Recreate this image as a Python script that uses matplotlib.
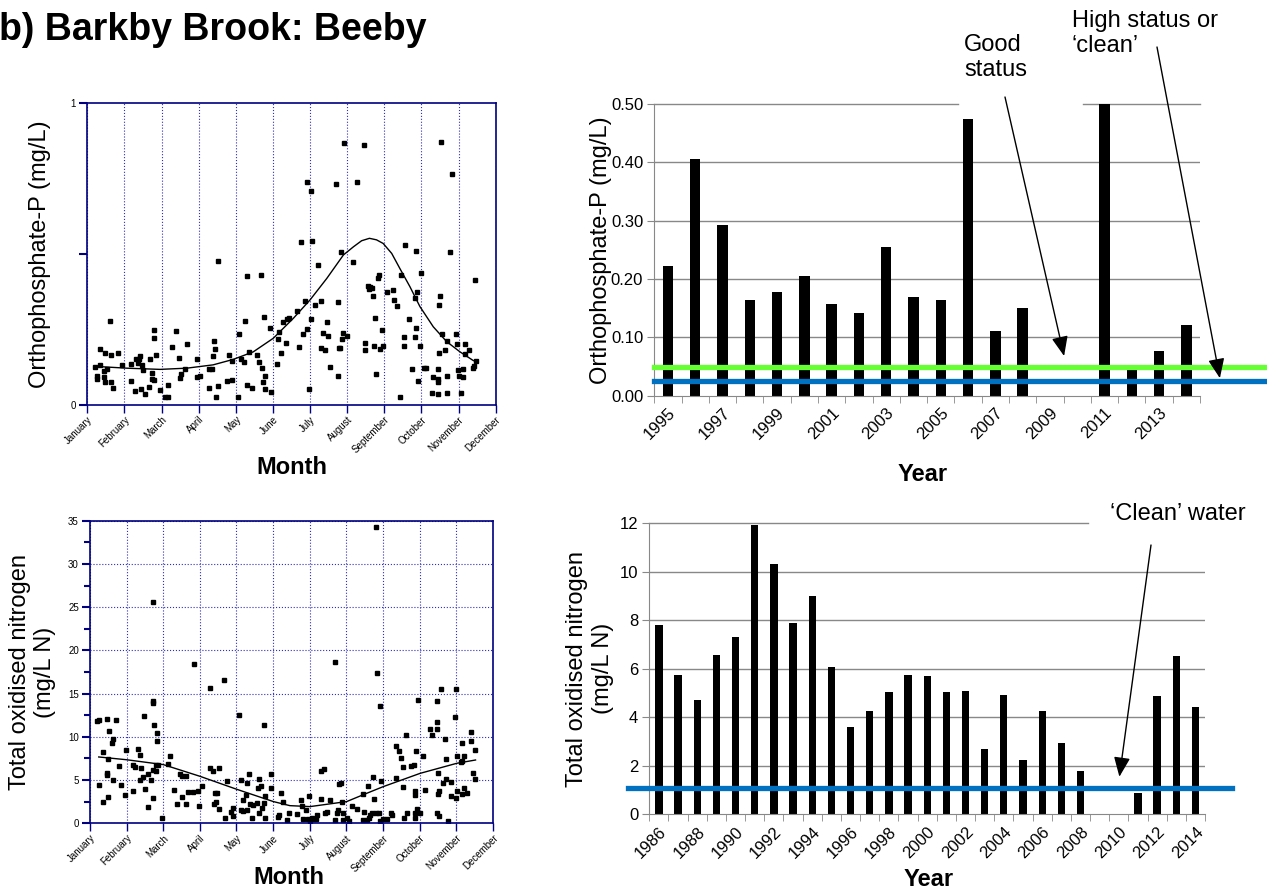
import numpy as np
import matplotlib.pyplot as plt

plt.rcParams['font.family'] = ['Liberation Sans', 'DejaVu Sans']

months = ['January', 'February', 'March', 'April', 'May', 'June', 'July',
          'August', 'September', 'October', 'November', 'December']

# orthophosphate samples (month position, mg/L)
ortho_month = [0.21, 0.25, 0.25, 0.34, 0.34, 0.45, 0.45, 0.48, 0.48, 0.52, 0.61, 0.64, 0.65, 0.70,
               0.84, 0.93, 1.17, 1.17, 1.28, 1.31, 1.36, 1.38, 1.42, 1.45, 1.47, 1.51, 1.56, 1.67,
               1.69, 1.74, 1.74, 1.79, 1.80, 1.80, 1.85, 1.96, 2.10, 2.17, 2.17, 2.28, 2.39, 2.48,
               2.50, 2.53, 2.62, 2.68, 2.96, 2.96, 3.04, 3.29, 3.29, 3.36, 3.38, 3.41, 3.45, 3.47,
               3.52, 3.52, 3.75, 3.83, 3.90, 3.90, 4.06, 4.09, 4.15, 4.22, 4.26, 4.29, 4.31, 4.35,
               4.44, 4.56, 4.62, 4.67, 4.71, 4.72, 4.76, 4.78, 4.80, 4.92, 4.96, 5.12, 5.15, 5.17,
               5.21, 5.26, 5.35, 5.39, 5.42, 5.64, 5.69, 5.77, 5.80, 5.87, 5.91, 5.93, 5.98, 6.02,
               6.03, 6.05, 6.14, 6.21, 6.29, 6.30, 6.36, 6.39, 6.45, 6.48, 6.54, 6.70, 6.75, 6.75,
               6.79, 6.81, 6.84, 6.86, 6.90, 6.91, 6.99, 7.15, 7.26, 7.45, 7.49, 7.49, 7.56, 7.58,
               7.61, 7.67, 7.69, 7.74, 7.72, 7.79, 7.83, 7.87, 7.88, 7.94, 7.97, 8.06, 8.23, 8.26,
               8.35, 8.42, 8.46, 8.53, 8.53, 8.57, 8.66, 8.75, 8.82, 8.84, 8.85, 8.85, 8.89, 8.91,
               8.96, 9.00, 9.07, 9.12, 9.29, 9.30, 9.45, 9.45, 9.46, 9.46, 9.48, 9.48, 9.50, 9.52,
               9.55, 9.63, 9.68, 9.68, 9.70, 9.77, 9.82, 9.93, 9.97, 9.99, 10.00, 10.08, 10.11,
               10.13, 10.17, 10.18, 10.27, 10.40, 10.42, 10.45, 10.47]
ortho_value = [0.126, 0.095, 0.086, 0.131, 0.185, 0.113, 0.093, 0.075, 0.172, 0.119, 0.278, 0.164,
               0.075, 0.057, 0.171, 0.130, 0.135, 0.078, 0.047, 0.153, 0.137, 0.152, 0.161, 0.051,
               0.132, 0.115, 0.036, 0.058, 0.150, 0.105, 0.084, 0.082, 0.246, 0.220, 0.164, 0.050,
               0.025, 0.025, 0.065, 0.192, 0.244, 0.155, 0.087, 0.102, 0.119, 0.200, 0.150, 0.092,
               0.094, 0.055, 0.118, 0.117, 0.162, 0.212, 0.185, 0.025, 0.062, 0.476, 0.078, 0.163,
               0.146, 0.082, 0.025, 0.234, 0.150, 0.142, 0.278, 0.425, 0.064, 0.173, 0.057, 0.163,
               0.142, 0.429, 0.121, 0.074, 0.289, 0.052, 0.095, 0.255, 0.043, 0.134, 0.219, 0.240,
               0.172, 0.273, 0.206, 0.283, 0.287, 0.310, 0.192, 0.538, 0.235, 0.344, 0.738, 0.252,
               0.052, 0.285, 0.708, 0.543, 0.331, 0.461, 0.342, 0.187, 0.238, 0.182, 0.273, 0.226,
               0.124, 0.732, 0.340, 0.095, 0.189, 0.188, 0.506, 0.216, 0.238, 0.866, 0.228, 0.471,
               0.738, 0.861, 0.203, 0.180, 0.394, 0.383, 0.389, 0.386, 0.361, 0.287, 0.195, 0.103,
               0.421, 0.428, 0.185, 0.248, 0.194, 0.374, 0.380, 0.347, 0.327, 0.025, 0.428, 0.225,
               0.193, 0.528, 0.283, 0.119, 0.224, 0.354, 0.508, 0.255, 0.374, 0.078, 0.194, 0.437,
               0.120, 0.120, 0.040, 0.091, 0.119, 0.086, 0.076, 0.035, 0.330, 0.170, 0.361, 0.871,
               0.234, 0.180, 0.210, 0.096, 0.038, 0.506, 0.765, 0.234, 0.201, 0.115, 0.096, 0.038,
               0.119, 0.091, 0.201, 0.168, 0.182, 0.120, 0.128, 0.413, 0.146]
ortho_trend_month = [0.21, 1.06, 1.96, 2.68, 3.39, 3.93, 4.47, 5.01, 5.55, 6.00, 6.45, 6.90, 7.17,
                     7.39, 7.60, 7.79, 7.97, 8.20, 8.42, 8.69, 8.96, 9.32, 9.68, 10.04, 10.40]
ortho_trend_value = [0.127, 0.121, 0.117, 0.121, 0.132, 0.150, 0.175, 0.220, 0.286, 0.347, 0.418,
                     0.496, 0.523, 0.543, 0.551, 0.546, 0.534, 0.501, 0.451, 0.391, 0.325, 0.258,
                     0.209, 0.175, 0.146]

# total oxidised nitrogen samples (month position, mg/L N)
ton_month = [0.20, 0.24, 0.25, 0.35, 0.35, 0.46, 0.47, 0.47, 0.48, 0.50, 0.51, 0.60, 0.64, 0.64,
             0.70, 0.79, 0.85, 0.95, 0.99, 1.18, 1.18, 1.23, 1.31, 1.37, 1.37, 1.40, 1.44, 1.48,
             1.51, 1.58, 1.58, 1.66, 1.71, 1.72, 1.73, 1.73, 1.73, 1.75, 1.80, 1.80, 1.82, 1.82,
             1.87, 1.97, 2.12, 2.18, 2.30, 2.38, 2.47, 2.51, 2.51, 2.62, 2.62, 2.69, 2.81, 2.83,
             2.95, 2.97, 3.05, 3.28, 3.28, 3.37, 3.39, 3.42, 3.44, 3.48, 3.53, 3.53, 3.66, 3.68,
             3.75, 3.84, 3.90, 3.90, 4.06, 4.13, 4.13, 4.17, 4.19, 4.26, 4.28, 4.28, 4.33, 4.37,
             4.43, 4.44, 4.57, 4.59, 4.61, 4.63, 4.66, 4.70, 4.74, 4.75, 4.77, 4.79, 4.94, 4.95,
             5.14, 5.17, 5.23, 5.28, 5.37, 5.43, 5.66, 5.77, 5.79, 5.81, 5.90, 5.96, 5.99, 6.01,
             6.07, 6.12, 6.16, 6.21, 6.30, 6.32, 6.39, 6.41, 6.48, 6.56, 6.68, 6.70, 6.76, 6.78,
             6.81, 6.85, 6.89, 6.92, 6.92, 7.01, 7.07, 7.16, 7.29, 7.45, 7.47, 7.49, 7.56, 7.60,
             7.61, 7.65, 7.70, 7.74, 7.76, 7.80, 7.81, 7.85, 7.89, 7.91, 7.91, 7.94, 8.00, 8.11,
             8.21, 8.25, 8.36, 8.36, 8.45, 8.49, 8.54, 8.56, 8.58, 8.62, 8.65, 8.76, 8.85, 8.87,
             8.87, 8.87, 8.89, 8.91, 8.93, 8.96, 9.02, 9.09, 9.14, 9.29, 9.33, 9.47, 9.47, 9.47,
             9.49, 9.51, 9.51, 9.53, 9.54, 9.58, 9.64, 9.69, 9.71, 9.73, 9.78, 9.85, 9.85, 9.96,
             10.00, 10.00, 10.02, 10.02, 10.13, 10.15, 10.16, 10.16, 10.22, 10.22, 10.31, 10.42,
             10.42, 10.47, 10.51, 10.51]
ton_value = [11.80, 11.95, 4.43, 8.25, 2.51, 12.07, 5.55, 5.82, 7.40, 3.05, 10.64, 9.25, 9.71, 5.01,
             11.99, 6.63, 4.39, 3.24, 8.52, 3.74, 6.71, 6.48, 8.60, 7.90, 4.97, 6.44, 5.40, 12.45,
             3.97, 1.85, 5.67, 5.01, 6.17, 2.97, 25.56, 14.11, 13.88, 11.41, 6.78, 6.05, 9.56,
             10.49, 6.78, 0.66, 6.86, 7.83, 3.89, 2.20, 5.71, 3.01, 5.47, 5.44, 2.24, 3.59, 3.59,
             18.43, 3.70, 1.97, 4.32, 15.69, 6.40, 6.05, 2.20, 3.47, 2.47, 3.47, 1.66, 6.44, 16.54,
             0.66, 4.86, 1.27, 0.89, 1.81, 12.53, 1.50, 5.01, 2.70, 1.43, 3.28, 1.50, 4.70, 5.74,
             2.27, 0.58, 2.12, 2.31, 4.12, 1.16, 5.09, 4.28, 1.77, 2.31, 11.37, 0.66, 3.16, 5.71,
             4.12, 0.77, 1.00, 3.47, 2.43, 0.39, 1.16, 1.04, 2.70, 1.97, 0.46, 1.58, 0.46, 3.16,
             0.31, 0.66, 0.46, 0.50, 1.00, 2.78, 6.05, 6.25, 1.16, 1.31, 2.70, 18.62, 0.39, 1.16,
             1.54, 4.59, 4.63, 2.51, 1.16, 0.42, 0.58, 0.31, 1.97, 1.70, 0.39, 3.35, 1.31, 0.39,
             4.32, 0.66, 0.96, 1.16, 5.36, 2.78, 34.23, 1.23, 17.43, 1.23, 13.57, 0.31, 4.86, 0.46,
             0.50, 1.23, 0.93, 8.94, 5.20, 8.40, 7.56, 6.55, 4.24, 0.58, 10.22, 1.23, 6.63, 6.78,
             0.58, 1.20, 3.28, 3.70, 8.37, 1.62, 14.26, 1.23, 7.75, 3.89, 10.87, 10.25, 14.19,
             11.72, 10.87, 1.23, 5.78, 3.35, 3.78, 0.85, 15.54, 4.70, 9.71, 5.09, 7.40, 0.31, 4.78,
             3.16, 12.34, 2.93, 15.54, 3.74, 7.83, 7.13, 9.25, 7.17, 3.35, 4.05, 7.83, 3.47, 10.52,
             9.56, 5.78, 5.09, 8.52]
ton_trend_month = [0.24, 1.00, 2.00, 3.00, 4.01, 5.01, 5.46, 6.01, 7.01, 7.56, 8.01, 9.02, 10.02, 10.53]
ton_trend_value = [7.67, 7.35, 6.79, 5.44, 3.93, 2.51, 2.04, 1.93, 2.51, 3.47, 4.24, 5.78, 6.94, 7.32]

# annual means
p_years = list(range(1995, 2015))
p_annual = [0.223, 0.405, 0.293, 0.164, 0.178, 0.205, 0.157, 0.141, 0.254, 0.170,
            0.164, 0.475, 0.111, 0.151, None, None, 0.50, 0.047, 0.077, 0.121]
p_good = 0.05
p_high = 0.025

n_years = list(range(1986, 2015))
n_annual = [7.81, 5.75, 4.70, 6.56, 7.30, 11.92, 10.31, 7.89, 9.02, 6.09, 3.60, 4.26, 5.06, 5.73,
            5.70, 5.04, 5.07, 2.68, 4.93, 2.25, 4.26, 2.94, 1.79, None, None, 0.89, 4.89, 6.52, 4.44]
n_clean = 1.1

navy = '#000080'
grid_blue = '#3030c0'
grey = '#888888'

fig = plt.figure(figsize=(12.67, 8.94), dpi=100)


def month_axes(rect, ymax):
    ax = fig.add_axes(rect)
    ax.set_xlim(0, 11)
    ax.set_ylim(0, ymax)
    ax.set_xticks(range(12))
    ax.set_xticklabels(months, rotation=45, ha='right', va='top',
                       rotation_mode='anchor', fontsize=7)
    for sp in ax.spines.values():
        sp.set_color(navy)
        sp.set_linewidth(1.2)
    ax.tick_params(axis='x', length=6, width=1, color=navy, pad=1)
    ax.tick_params(axis='y', length=6, width=1.5, color=navy, labelsize=7, pad=2)
    ax.grid(axis='x', color=grid_blue, ls=':', lw=0.8)
    return ax


# top left: orthophosphate by month
ax1 = month_axes([0.0689, 0.5473, 0.3223, 0.3378], 1)
ax1.set_yticks([0, 0.5, 1])
ax1.set_yticklabels(['0', '', '1'])
ax1.plot(ortho_month, ortho_value, 's', color='black', ms=3.2, clip_on=False)
ax1.plot(ortho_trend_month, ortho_trend_value, color='black', lw=1)
ax1.set_ylabel('Orthophosphate-P (mg/L)', fontsize=17)
ax1.yaxis.set_label_coords(-0.089, 0.5)
ax1.set_xlabel('Month', fontsize=17, fontweight='bold')
ax1.xaxis.set_label_coords(0.501, -0.17)

# bottom left: TON by month
ax3 = month_axes([0.0710, 0.0791, 0.3179, 0.3385], 35)
ax3.set_yticks(range(0, 36, 5))
ax3.set_yticks(np.arange(2.5, 35, 5), minor=True)
ax3.tick_params(axis='y', which='minor', length=4, width=1.5, color=navy)
ax3.grid(axis='y', color=grid_blue, ls=':', lw=0.8)
ax3.plot(ton_month, ton_value, 's', color='black', ms=3.2)
ax3.plot(ton_trend_month, ton_trend_value, color='black', lw=1)
ax3.set_ylabel('Total oxidised nitrogen\n(mg/L N)', fontsize=17)
ax3.yaxis.set_label_coords(-0.084, 0.5)
ax3.set_xlabel('Month', fontsize=17, fontweight='bold')
ax3.xaxis.set_label_coords(0.494, -0.141)


def year_axes(rect, years, values, ymax, ystep):
    ax = fig.add_axes(rect)
    n = len(years)
    ax.set_xlim(-0.5, n - 0.5)
    ax.set_ylim(0, ymax)
    idx = [i for i, v in enumerate(values) if v is not None]
    ax.bar(idx, [values[i] for i in idx], width=0.38, color='black', zorder=2)
    ax.set_xticks(range(0, n, 2))
    ax.set_xticklabels([str(y) for y in years[::2]], rotation=45, ha='right', va='top',
                       rotation_mode='anchor', fontsize=12)
    ax.set_xticks(np.arange(-0.5, n), minor=True)
    ax.tick_params(axis='x', which='major', length=0, pad=7)
    ax.tick_params(axis='x', which='minor', length=5, color=grey)
    ax.set_yticks(np.arange(0, ymax + ystep / 2, ystep))
    ax.tick_params(axis='y', length=5, color=grey, labelsize=12, pad=3)
    for s in ['top', 'right']:
        ax.spines[s].set_visible(False)
    for s in ['left', 'bottom']:
        ax.spines[s].set_color(grey)
    return ax


# top right: annual orthophosphate
ax2 = year_axes([0.5164, 0.5574, 0.4307, 0.3263], p_years, p_annual, 0.5, 0.1)
ax2.set_yticklabels(['%.2f' % v for v in np.arange(0, 0.51, 0.1)])
for v in np.arange(0.1, 0.45, 0.1):
    ax2.axhline(v, color=grey, lw=1, zorder=1)
# top gridline is broken where the "Good status" label sits
ax2.axhline(0.5, xmin=0, xmax=0.5565, color=grey, lw=1, zorder=1, clip_on=False)
ax2.axhline(0.5, xmin=0.7856, xmax=1, color=grey, lw=1, zorder=1, clip_on=False)
ax2.axhline(p_good, xmin=0, xmax=1.123, color='#66ff33', lw=3.8, zorder=3, clip_on=False)
ax2.axhline(p_high, xmin=0, xmax=1.123, color='#0070c0', lw=3.8, zorder=3, clip_on=False)
ax2.set_ylabel('Orthophosphate-P (mg/L)', fontsize=17)
ax2.yaxis.set_label_coords(-0.078, 0.5)
ax2.set_xlabel('Year', fontsize=17, fontweight='bold')
ax2.xaxis.set_label_coords(0.492, -0.231)

arrow = dict(arrowstyle='-|>,head_length=0.6,head_width=0.25', color='black', lw=1,
             mutation_scale=20, shrinkA=0, shrinkB=0)
fig.text(0.761, 0.962, 'Good\nstatus', fontsize=17, ha='left', va='top')
fig.text(0.846, 0.989, 'High status or\n\u2018clean\u2019', fontsize=17, ha='left', va='top')
ax2.annotate('', xy=(14.52, 0.068), xytext=(1005 / 1267, 1 - 97 / 894),
             textcoords='figure fraction', arrowprops=arrow, annotation_clip=False)
ax2.annotate('', xy=(20.23, 0.030), xytext=(1157 / 1267, 1 - 47 / 894),
             textcoords='figure fraction', arrowprops=arrow, annotation_clip=False)

# bottom right: annual TON
ax4 = year_axes([0.5125, 0.0891, 0.4386, 0.3256], n_years, n_annual, 12, 2)
for v in range(2, 11, 2):
    ax4.axhline(v, color=grey, lw=1, zorder=1)
ax4.axhline(12, xmin=0, xmax=0.789, color=grey, lw=1, zorder=1, clip_on=False)
ax4.axhline(n_clean, xmin=-0.038, xmax=1.049, color='#0070c0', lw=3.8, zorder=3, clip_on=False)
ax4.set_ylabel('Total oxidised nitrogen\n(mg/L N)', fontsize=17)
ax4.yaxis.set_label_coords(-0.064, 0.5)
ax4.set_xlabel('Year', fontsize=17, fontweight='bold')
ax4.xaxis.set_label_coords(0.503, -0.185)
fig.text(0.876, 0.437, '\u2018Clean\u2019 water', fontsize=17, ha='left', va='top')
ax4.annotate('', xy=(24.03, 1.55), xytext=(1151 / 1267, 1 - 545 / 894),
             textcoords='figure fraction', arrowprops=arrow, annotation_clip=False)

fig.text(-0.001, 1 - 40 / 894, 'b) Barkby Brook: Beeby', fontsize=27, fontweight='bold',
         ha='left', va='baseline')

fig.savefig('out.png', dpi=100)
